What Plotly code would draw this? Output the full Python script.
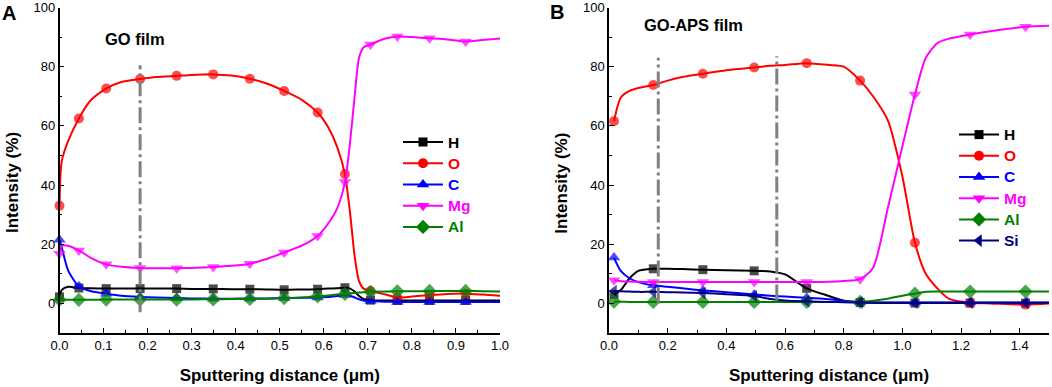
import numpy as np
import plotly.graph_objects as go

# ---------------- Panel A : GO film ----------------
A_x = [0.0, 0.005, 0.02, 0.044, 0.07, 0.106, 0.14, 0.183, 0.22, 0.266, 0.3, 0.349, 0.39,
       0.432, 0.47, 0.51, 0.55, 0.586, 0.61, 0.63, 0.648, 0.66, 0.67, 0.68, 0.69, 0.706,
       0.74, 0.767, 0.8, 0.84, 0.88, 0.922, 0.96, 1.0]
A_H = [2.2, 4.5, 5.6, 5.2, 5.1, 5.0, 5.0, 5.0, 5.0, 5.0, 4.9, 4.9, 4.8,
       4.8, 4.7, 4.6, 4.7, 4.8, 5.0, 5.1, 5.3, 5.0, 4.0, 2.5, 1.5, 1.1,
       1.0, 1.0, 1.0, 1.0, 1.0, 1.0, 1.0, 1.0]
A_O = [33, 48, 55, 62.5, 68.5, 72.6, 74.8, 75.8, 76.5, 76.9, 77.2, 77.4, 77.0,
       75.9, 74.3, 71.8, 68.8, 64.5, 59.5, 53, 43.7, 30, 16, 7.5, 5.0, 4.2,
       3.0, 2.0, 2.3, 2.8, 3.2, 3.3, 3.0, 2.6]
A_C = [21.5, 19, 11, 5.8, 4.2, 3.3, 2.6, 2.2, 2.0, 1.8, 1.7, 1.6, 1.6,
       1.7, 1.7, 1.8, 1.9, 2.0, 2.2, 2.5, 2.8, 2.6, 2.0, 1.4, 1.0, 0.8,
       0.6, 0.5, 0.5, 0.5, 0.5, 0.5, 0.5, 0.5]
A_Mg = [16.8, 19.5, 19.5, 17.9, 15.5, 13.2, 12.4, 12.0, 11.9, 11.9, 12.0, 12.3, 12.7,
        13.4, 15.0, 17.2, 19.5, 22.8, 27, 32, 41, 55, 70, 83, 86.5, 87.5,
        89.5, 90.2, 90.0, 89.6, 89.2, 88.5, 89.0, 89.5]
A_Al = [1.2, 1.2, 1.2, 1.2, 1.2, 1.3, 1.3, 1.3, 1.3, 1.3, 1.35, 1.4, 1.45,
        1.5, 1.6, 1.8, 2.0, 2.4, 2.7, 3.0, 3.2, 3.4, 3.5, 3.7, 3.8, 3.9,
        4.0, 4.1, 4.1, 4.2, 4.2, 4.2, 4.1, 4.0]
A_marker_x = [0.0, 0.044, 0.106, 0.183, 0.266, 0.349, 0.432, 0.51, 0.586, 0.648,
              0.706, 0.767, 0.84, 0.922]
A_layer_x = [0.183]
A_layer_top = [80.5]
A_layer_bottom = [-3]

# ---------------- Panel B : GO-APS film ----------------
B_x = [0.017, 0.04, 0.07, 0.1, 0.151, 0.2, 0.25, 0.32, 0.4, 0.495, 0.55, 0.6, 0.674,
       0.75, 0.8, 0.856, 0.9, 0.95, 1.0, 1.043, 1.08, 1.12, 1.16, 1.231, 1.3, 1.42, 1.5]
B_H = [3.0, 4.5, 8.5, 11.0, 11.7, 11.7, 11.6, 11.4, 11.2, 11.0, 10.8, 9.8, 5.1,
       2.5, 0.9, 0.3, 0.2, 0.1, 0.1, 0.1, 0.1, 0.1, 0.1, 0.1, 0.1, 0.1, 0.1]
B_O = [61.6, 69.5, 71.8, 72.8, 73.8, 75.3, 76.5, 77.6, 78.8, 79.7, 80.3, 80.6, 81.2,
       80.6, 80.0, 75.3, 70.0, 62.0, 43.0, 20.5, 10.0, 5.0, 1.5, 0.2, 0.0, -0.4, 0.0]
B_C = [15.5, 11.0, 8.5, 7.2, 6.1, 5.6, 5.1, 4.4, 3.8, 3.0, 2.6, 2.3, 1.9,
       1.4, 0.9, 0.5, 0.4, 0.3, 0.3, 0.3, 0.3, 0.3, 0.3, 0.3, 0.3, 0.3, 0.3]
B_Mg = [7.8, 7.5, 7.4, 7.3, 7.2, 7.2, 7.2, 7.2, 7.2, 7.2, 7.2, 7.2, 7.2,
        7.3, 7.6, 8.2, 12.0, 32.0, 53.0, 70.6, 83.0, 88.0, 89.5, 90.9, 92.0, 93.5, 93.8]
B_Al = [0.6, 0.6, 0.5, 0.5, 0.5, 0.5, 0.5, 0.5, 0.5, 0.5, 0.5, 0.5, 0.5,
        0.5, 0.5, 0.5, 0.9, 1.6, 2.6, 3.3, 3.9, 4.0, 4.0, 4.0, 4.0, 4.0, 4.0]
B_Si = [4.2, 4.1, 4.0, 3.9, 3.9, 3.8, 3.7, 3.5, 3.1, 2.5, 1.5, 1.0, 0.7,
        0.5, 0.4, 0.3, 0.25, 0.2, 0.2, 0.2, 0.2, 0.2, 0.2, 0.2, 0.2, 0.2, 0.2]
B_marker_x = [0.017, 0.151, 0.32, 0.495, 0.674, 0.856, 1.043, 1.231, 1.42]
B_layer_x = [0.168, 0.572]
B_layer_top = [83.0, 83.5]
B_layer_bottom = [0.0, 1.0]

# ---------------- styles ----------------
FONT = "Liberation Sans, Arial, sans-serif"
STY = {
    "H": ("#000000", "square", 9),
    "O": ("#FF0000", "circle", 10),
    "C": ("#0000FF", "triangle-up", 11),
    "Mg": ("#FF00FF", "triangle-down", 11),
    "Al": ("#008000", "diamond", 11),
    "Si": ("#000080", "triangle-left", 11),
}

fig = go.Figure()


def add_series(name, xs, ys, mark_x, xa, ya, legend):
    color, symbol, size = STY[name]
    xs = np.array(xs, dtype=float)
    sizes = np.where(np.isin(np.round(xs, 4), np.round(mark_x, 4)), size, 0)
    fig.add_trace(go.Scatter(
        x=xs, y=ys, mode="lines+markers", xaxis=xa, yaxis=ya,
        line=dict(color=color, width=2, shape="spline", smoothing=0.7),
        marker=dict(symbol=symbol, size=sizes, color=color, line=dict(width=0)),
        showlegend=False, cliponaxis=False, hoverinfo="skip"))
    # legend entry
    fig.add_trace(go.Scatter(
        x=[None], y=[None], mode="lines+markers", xaxis=xa, yaxis=ya,
        line=dict(color=color, width=2),
        marker=dict(symbol=symbol, size=size, color=color),
        name=f"<b><span style='color:{color};font-size:15.5px'>{name}</span></b>",
        legend=legend, showlegend=True))


def add_layers(lx, ltop, lbot, xa, ya):
    xs, ys = [], []
    for x, t, b in zip(lx, ltop, lbot):
        xs += [x, x, None]
        ys += [b, t, None]
    fig.add_trace(go.Scatter(
        x=xs, y=ys, mode="lines", xaxis=xa, yaxis=ya,
        line=dict(color="#808080", width=3, dash="16px,4px,3px,4px"),
        showlegend=False, hoverinfo="skip", cliponaxis=False))


for nm, ys in [("H", A_H), ("O", A_O), ("C", A_C), ("Mg", A_Mg), ("Al", A_Al)]:
    add_series(nm, A_x, ys, A_marker_x, "x", "y", "legend")
add_layers(A_layer_x, A_layer_top, A_layer_bottom, "x", "y")

for nm, ys in [("H", B_H), ("O", B_O), ("C", B_C), ("Mg", B_Mg), ("Al", B_Al), ("Si", B_Si)]:
    add_series(nm, B_x, ys, B_marker_x, "x2", "y2", "legend2")
add_layers(B_layer_x, B_layer_top, B_layer_bottom, "x2", "y2")

W, H = 1052, 387
yd = [1 - 333 / H, 1 - 7.5 / H]

axis_common = dict(showline=True, linecolor="black", linewidth=1.5, ticks="inside",
                   ticklen=5, tickwidth=1.2, tickcolor="black", showgrid=False,
                   zeroline=False, tickfont=dict(family=FONT, size=13, color="black"),
                   minor=dict(ticks="inside", ticklen=3, tickwidth=1.2, tickcolor="black",
                              showgrid=False))
xt = dict(text="<b>Sputtering distance (μm)</b>", font=dict(family=FONT, size=17, color="black"),
          standoff=17)

fig.update_layout(
    width=W, height=H, margin=dict(l=0, r=0, t=0, b=0, autoexpand=False),
    paper_bgcolor="white", plot_bgcolor="white",
    xaxis=dict(domain=[59.5 / W, 500 / W], range=[0, 1.0], dtick=0.1, tickformat=".1f",
               anchor="y", title=xt, **axis_common),
    yaxis=dict(domain=yd, range=[-10, 100], tick0=0, dtick=20, anchor="x",
               **axis_common),
    xaxis2=dict(domain=[609 / W, 1049 / W], range=[0, 1.5], dtick=0.2, tickformat=".1f",
                anchor="y2", title=xt, **axis_common),
    yaxis2=dict(domain=yd, range=[-10, 100], tick0=0, dtick=20, anchor="x2",
                **axis_common),
    legend=dict(x=398 / W, y=1 - 126.5 / H, xanchor="left", yanchor="top",
                bgcolor="rgba(0,0,0,0)", font=dict(family=FONT, size=14),
                itemwidth=40),
    legend2=dict(x=954 / W, y=1 - 119 / H, xanchor="left", yanchor="top",
                 bgcolor="rgba(0,0,0,0)", font=dict(family=FONT, size=14),
                 itemwidth=40),
)
fig.update_layout(xaxis_minor_dtick=0.05, xaxis2_minor_dtick=0.1,
                  yaxis_minor_dtick=10, yaxis2_minor_dtick=10)

ann = [
    dict(text="<b>A</b>", x=9 / W, y=1 - 13 / H, font=dict(size=20)),
    dict(text="<b>B</b>", x=557 / W, y=1 - 12 / H, font=dict(size=20)),
    dict(text="<b>GO film</b>", x=134.5 / W, y=1 - 38.5 / H, font=dict(size=16.5)),
    dict(text="<b>GO-APS film</b>", x=693 / W, y=1 - 24.5 / H, font=dict(size=16.5)),
    dict(text="<b>Intensity (%)</b>", x=13 / W, y=1 - 183 / H, font=dict(size=17), textangle=-90),
    dict(text="<b>Intensity (%)</b>", x=561.7 / W, y=1 - 183 / H, font=dict(size=17), textangle=-90),
]
for a in ann:
    a["font"].update(family=FONT, color="black")
    fig.add_annotation(xref="paper", yref="paper", showarrow=False,
                       xanchor="center", yanchor="middle", **a)

fig.write_html("out.html", config={"displayModeBar": False},
               post_script="document.body.style.margin='0';")
